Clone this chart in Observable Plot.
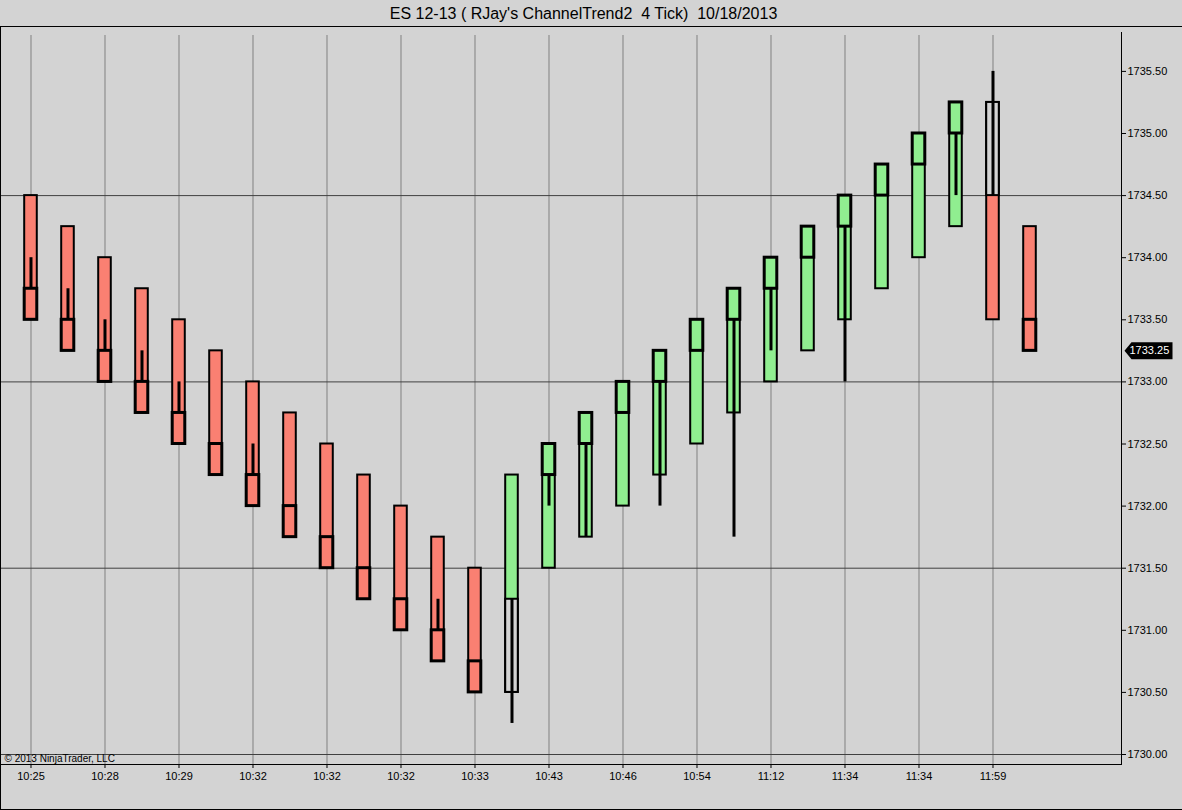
<!DOCTYPE html>
<html>
<head>
<meta charset="utf-8">
<script src="https://cdn.jsdelivr.net/npm/d3@7"></script>
<script src="https://cdn.jsdelivr.net/npm/@observablehq/plot@0.6"></script>
<style>
  html, body { margin: 0; padding: 0; background: #d3d3d3; overflow: hidden; }
  #title { height: 24px; padding-top: 2px; padding-right: 15px; border-bottom: 1px solid #000;
           display: flex; align-items: center; justify-content: center;
           font: 16px/1 "Liberation Sans", Arial, sans-serif; white-space: pre; color: #000; }
  #chart { width: 1181px; height: 782px; border-left: 1px solid #000; border-bottom: 1px solid #000; }
  #chart svg { display: block; }
</style>
</head>
<body>
<div id="title">ES 12-13 ( RJay's ChannelTrend2  4 Tick)  10/18/2013</div>
<div id="chart"></div>
<script>
// ---- data ----
const timeLabels = ["10:25","10:28","10:29","10:32","10:32","10:32","10:33","10:43","10:46","10:54","11:12","11:34","11:34","11:59"]; // every 2nd bar
const trend = ["down","down","down","down","down","down","down","down","down","down","down","down","down",
               "up","up","up","up","up","up","up","up","up","up","up","up","up",
               "down","down"];
const boxHigh = [1734.5,1734.25,1734.0,1733.75,1733.5,1733.25,1733.0,1732.75,1732.5,1732.25,1732.0,1731.75,1731.5,
                 1732.25,1732.5,1732.75,1733.0,1733.25,1733.5,1733.75,1734.0,1734.25,1734.5,1734.75,1735.0,1735.25,
                 1735.25,1734.25];
const boxLow  = [1733.5,1733.25,1733.0,1732.75,1732.5,1732.25,1732.0,1731.75,1731.5,1731.25,1731.0,1730.75,1730.5,
                 1730.5,1731.5,1731.75,1732.0,1732.25,1732.5,1732.75,1733.0,1733.25,1733.5,1733.75,1734.0,1734.25,
                 1733.5,1733.25];
const bodyHigh = [1733.75,1733.5,1733.25,1733.0,1732.75,1732.5,1732.25,1732.0,1731.75,1731.5,1731.25,1731.0,1730.75,
                  null,1732.5,1732.75,1733.0,1733.25,1733.5,1733.75,1734.0,1734.25,1734.5,1734.75,1735.0,1735.25,
                  null,1733.5];
const bodyLow  = [1733.5,1733.25,1733.0,1732.75,1732.5,1732.25,1732.0,1731.75,1731.5,1731.25,1731.0,1730.75,1730.5,
                  null,1732.25,1732.5,1732.75,1733.0,1733.25,1733.5,1733.75,1734.0,1734.25,1734.5,1734.75,1735.0,
                  null,1733.25];
const wickHigh = [1734.0,1733.75,1733.5,1733.25,1733.0,null,1732.5,null,null,null,null,1731.25,null,
                  1731.25,1732.25,1732.5,null,1733.0,null,1733.5,1733.75,null,1734.25,null,null,1735.0,
                  1735.5,null];
const wickLow  = [1733.75,1733.5,1733.25,1733.0,1732.75,null,1732.25,null,null,null,null,1731.0,null,
                  1730.25,1732.0,1731.75,null,1732.0,null,1731.75,1733.25,null,1733.0,null,null,1734.5,
                  1734.5,null];
const flipHigh = [null,null,null,null,null,null,null,null,null,null,null,null,null,
                  1731.25,null,null,null,null,null,null,null,null,null,null,null,null,
                  1735.25,null];
const flipLow  = [null,null,null,null,null,null,null,null,null,null,null,null,null,
                  1730.5,null,null,null,null,null,null,null,null,null,null,null,null,
                  1734.5,null];
const priceTicks = [1730.0,1730.5,1731.0,1731.5,1732.0,1732.5,1733.0,1733.5,1734.0,1734.5,1735.0,1735.5];
const gridPrices = [1730.0,1731.5,1733.0,1734.5];
const lastPrice = 1733.25;
const copyright = "© 2013 NinjaTrader, LLC";

// ---- build table ----
const bars = trend.map((t, i) => ({
  i, trend: t, high: boxHigh[i], low: boxLow[i],
  bodyHigh: bodyHigh[i], bodyLow: bodyLow[i],
  wickHigh: wickHigh[i], wickLow: wickLow[i],
  flipHigh: flipHigh[i], flipLow: flipLow[i]
}));
const labelIdx = timeLabels.map((_, k) => k * 2);
const labelOf = new Map(labelIdx.map((v, k) => [v, timeLabels[k]]));
const colors = {down: "#fa8072", up: "#90ee90"};
const half = 0.17;

const tagSymbol = {
  draw(ctx) {
    ctx.moveTo(3, 0);
    ctx.lineTo(10, -8.5);
    ctx.lineTo(51, -8.5);
    ctx.lineTo(51, 8.5);
    ctx.lineTo(10, 8.5);
    ctx.closePath();
  }
};

const chart = Plot.plot({
  width: 1181, height: 782,
  marginTop: 5, marginBottom: 45, marginLeft: 0, marginRight: 61,
  style: {background: "transparent", fontFamily: "'Liberation Sans', Arial, sans-serif", fontSize: "11px", color: "#000"},
  x: {domain: [-0.797, 29.473], label: null},
  y: {domain: [1729.9195, 1735.8132], label: null},
  marks: [
    Plot.gridX(labelIdx, {stroke: "#808080", strokeOpacity: 1, insetTop: 3}),
    Plot.gridY(gridPrices, {stroke: "#404040", strokeOpacity: 1}),
    Plot.text([copyright], {frameAnchor: "bottom-left", dx: 3, dy: -3, textAnchor: "start", lineAnchor: "bottom", fontSize: 10, fill: "#000"}),
    Plot.rect(bars, {x1: d => d.i - half, x2: d => d.i + half, y1: "low", y2: "high",
      fill: d => colors[d.trend], stroke: "#000", strokeWidth: 2}),
    Plot.rect(bars.filter(d => d.flipHigh != null), {x1: d => d.i - half, x2: d => d.i + half, y1: "flipLow", y2: "flipHigh",
      fill: "#d3d3d3", stroke: "#000", strokeWidth: 2}),
    Plot.ruleX(bars.filter(d => d.wickHigh != null), {x: "i", y1: "wickLow", y2: "wickHigh", stroke: "#000", strokeWidth: 3}),
    Plot.rect(bars.filter(d => d.bodyHigh != null), {x1: d => d.i - half, x2: d => d.i + half, y1: "bodyLow", y2: "bodyHigh",
      fill: d => colors[d.trend], stroke: "#000", strokeWidth: 3}),
    Plot.frame({anchor: "right", stroke: "#000"}),
    Plot.frame({anchor: "bottom", stroke: "#000"}),
    Plot.axisY(priceTicks, {anchor: "right", label: null, tickSize: 4, tickPadding: 2, tickFormat: d => d.toFixed(2), fontSize: 11}),
    Plot.axisX(labelIdx, {anchor: "bottom", label: null, tickSize: 4, tickPadding: 4, tickFormat: d => labelOf.get(d), fontSize: 11}),
    Plot.dot([lastPrice], {y: d => d, frameAnchor: "right", symbol: tagSymbol, r: 5, fill: "#000", stroke: null}),
    Plot.text([lastPrice], {y: d => d, frameAnchor: "right", dx: 8, textAnchor: "start", text: d => d.toFixed(2), fill: "#fff", fontSize: 11})
  ]
});
document.getElementById("chart").appendChild(chart);
</script>
</body>
</html>
